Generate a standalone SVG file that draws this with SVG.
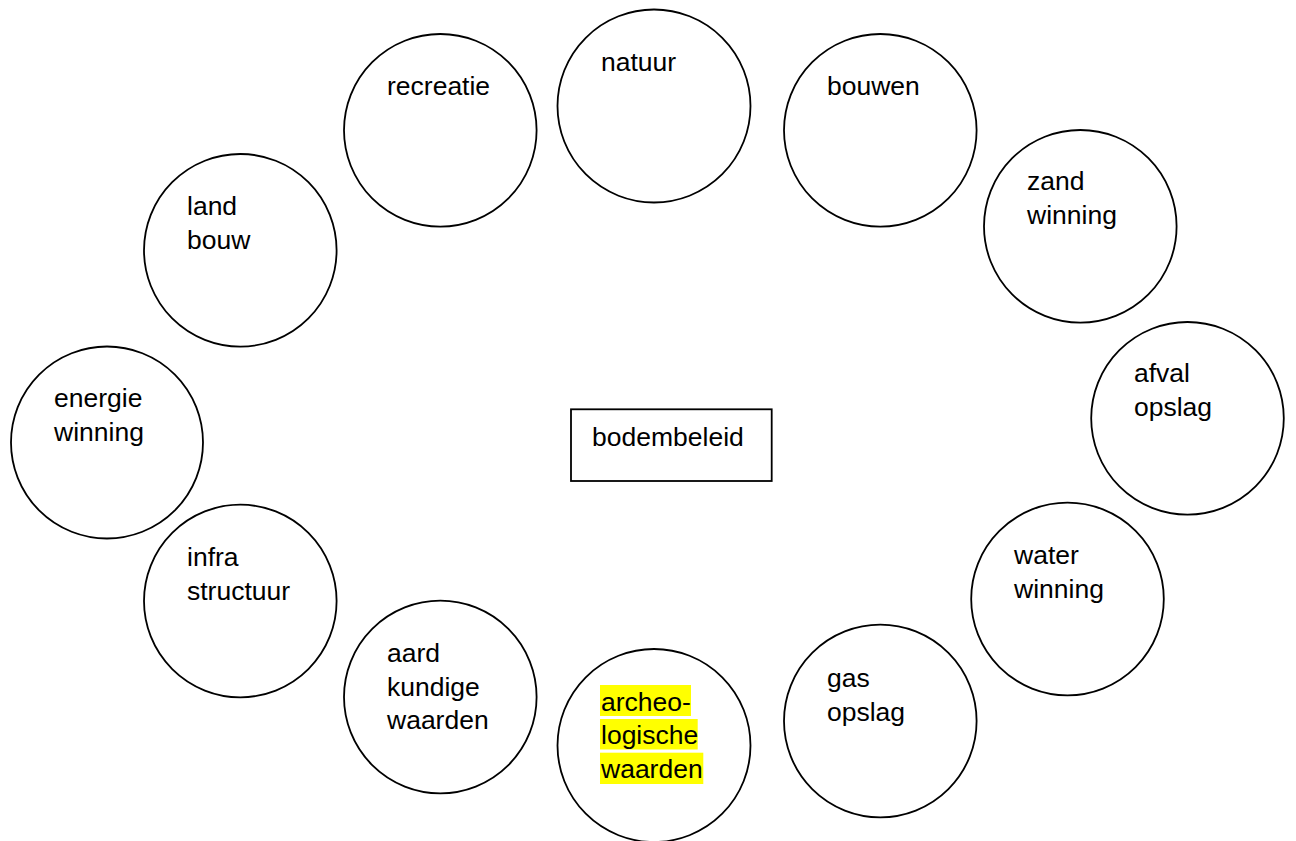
<svg xmlns="http://www.w3.org/2000/svg" width="1296" height="841" viewBox="0 0 1296 841">
<style>
.n{fill:#fff;stroke:#000;stroke-width:1.8}
.t{font-family:"Liberation Sans",Arial,sans-serif;font-size:26.5px;fill:#000}
.hl{fill:#ffff00}
</style>
<rect width="1296" height="841" fill="#fff"/>
<g id="connectors"></g>
<g id="recreatie"><circle class="n" cx="440.3" cy="130.3" r="96.3"/><text class="t" x="387" y="95">recreatie</text></g>
<g id="natuur"><circle class="n" cx="654" cy="106" r="96.5"/><text class="t" x="601" y="71">natuur</text></g>
<g id="bouwen"><circle class="n" cx="880.3" cy="130.3" r="96.3"/><text class="t" x="827" y="95">bouwen</text></g>
<g id="zandwinning"><circle class="n" cx="1080.3" cy="226.3" r="96.3"/><text class="t" x="1027" y="190">zand</text><text class="t" x="1027" y="224">winning</text></g>
<g id="afvalopslag"><circle class="n" cx="1187.5" cy="418.3" r="96.3"/><text class="t" x="1134" y="382">afval</text><text class="t" x="1134" y="416">opslag</text></g>
<g id="waterwinning"><circle class="n" cx="1067.5" cy="599" r="96.3"/><text class="t" x="1014" y="564">water</text><text class="t" x="1014" y="598">winning</text></g>
<g id="gasopslag"><circle class="n" cx="880.3" cy="721" r="96.3"/><text class="t" x="827" y="687">gas</text><text class="t" x="827" y="721">opslag</text></g>
<g id="archeologische"><circle class="n" cx="654" cy="745.5" r="96.5"/>
<rect class="hl" x="600" y="685" width="91" height="31"/>
<rect class="hl" x="600" y="719" width="97.7" height="30.5"/>
<rect class="hl" x="600" y="752.7" width="103.3" height="31.3"/>
<text class="t" x="601" y="710.5">archeo-</text><text class="t" x="601" y="744">logische</text><text class="t" x="601" y="778">waarden</text></g>
<g id="aardkundige"><circle class="n" cx="440.3" cy="697" r="96.3"/><text class="t" x="387" y="662">aard</text><text class="t" x="387" y="695.5">kundige</text><text class="t" x="387" y="729">waarden</text></g>
<g id="infrastructuur"><circle class="n" cx="240.3" cy="601" r="96.3"/><text class="t" x="187" y="566">infra</text><text class="t" x="187" y="600">structuur</text></g>
<g id="energiewinning"><circle class="n" cx="107" cy="442.5" r="96"/><text class="t" x="54" y="407">energie</text><text class="t" x="54" y="441">winning</text></g>
<g id="landbouw"><circle class="n" cx="240.3" cy="250.3" r="96.3"/><text class="t" x="187" y="215">land</text><text class="t" x="187" y="249">bouw</text></g>
<g id="bodembeleid"><rect class="n" x="571" y="409.3" width="200.7" height="71.7"/><text class="t" x="592" y="445.7">bodembeleid</text></g>
</svg>
